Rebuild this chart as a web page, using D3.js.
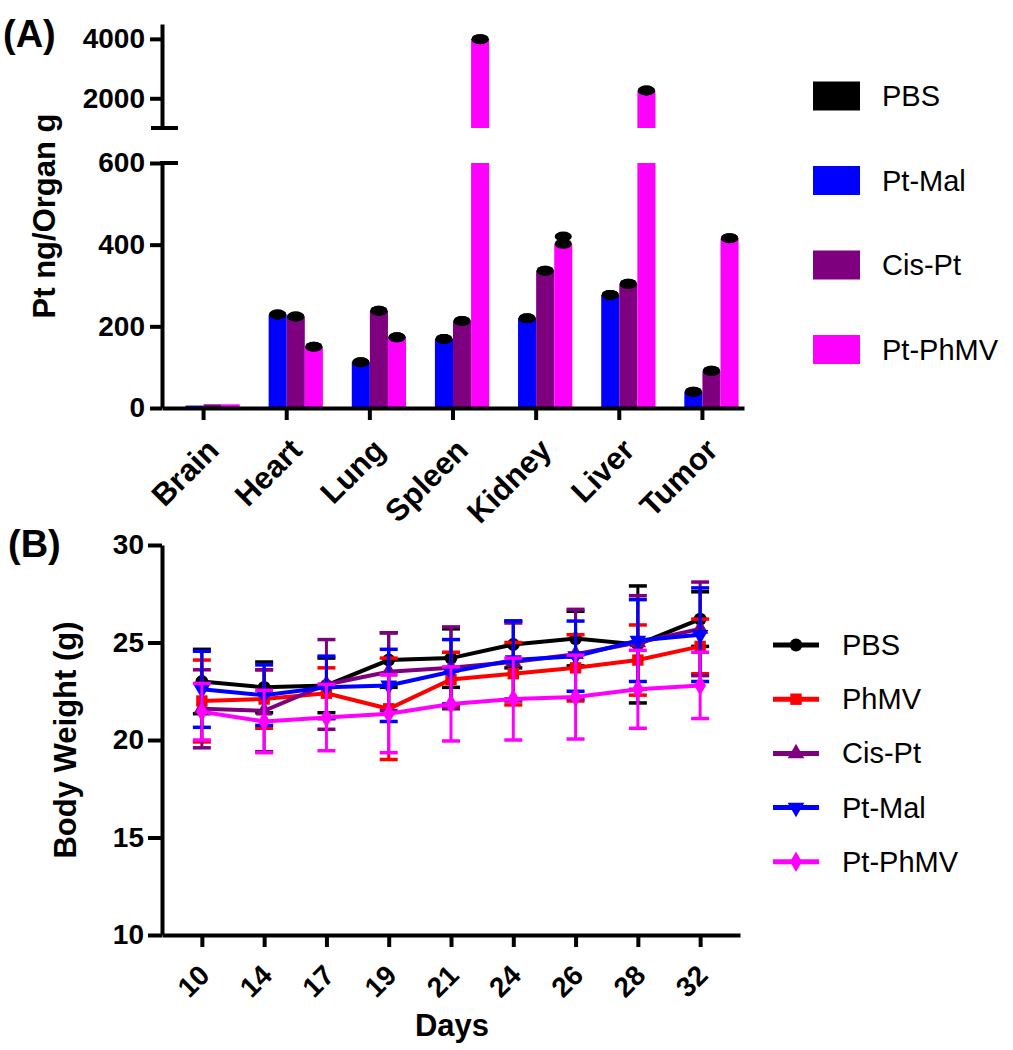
<!DOCTYPE html>
<html><head><meta charset="utf-8">
<script src="https://cdn.jsdelivr.net/npm/d3@7"></script>
<style>
body{margin:0;background:#fff}
text{font-family:Arial,"Liberation Sans",sans-serif}
</style>
</head><body>
<svg id="c" width="1013" height="1050"></svg>
<script>
// ---------- Panel A data ----------
const organs = ["Brain","Heart","Lung","Spleen","Kidney","Liver","Tumor"];
const barSeries = ["PBS","Pt-Mal","Cis-Pt","Pt-PhMV"];
const barColors = ["#000000","#0000FF","#7F007F","#FF00FF"];
const pbsVals   = [0,0,0,0,0,0,0];
const ptMalVals = [6,229,112,169,220,277,40];
const cisPtVals = [9,224,238,213,336,304,91];
const ptPhmvVals= [9,150,173,3990,402,2260,416];
const pbsErr    = [null,null,null,null,null,null,null];
const ptMalErr  = [null,0,0,0,0,0,0];
const cisPtErr  = [null,0,0,0,0,0,0];
const ptPhmvErr = [null,0,0,0,18,0,0];
const lowTicks = [0,200,400,600];
const upTicks = [2000,4000];

// ---------- Panel B data ----------
const days = ["10","14","17","19","21","24","26","28","32"];
const lineSeries = ["PBS","PhMV","Cis-Pt","Pt-Mal","Pt-PhMV"];
const lineColors = ["#000000","#FF0000","#7F007F","#0000FF","#FF00FF"];
const pbsW    = [23.0,22.7,22.8,24.1,24.2,24.9,25.2,24.9,26.2];
const pbsSD   = [1.65,1.3,1.4,1.4,1.5,1.2,1.4,3.0,1.4];
const phmvW   = [22.0,22.1,22.4,21.6,23.1,23.4,23.7,24.1,24.8];
const phmvSD  = [2.1,1.5,1.3,2.6,1.4,1.6,1.7,1.8,1.4];
const cisW    = [21.6,21.5,22.85,23.5,23.7,24.0,24.4,25.0,25.7];
const cisSD   = [2.0,2.1,2.3,2.0,2.1,2.0,2.3,2.4,2.4];
const malW    = [22.6,22.3,22.7,22.8,23.5,24.1,24.3,25.1,25.4];
const malSD   = [1.95,1.55,1.6,1.85,1.65,2.0,1.8,2.1,2.4];
const ptphW   = [21.45,20.95,21.15,21.35,21.85,22.1,22.2,22.6,22.8];
const ptphSD  = [1.45,1.6,1.7,2.0,1.9,2.1,2.15,2.0,1.7];
const bTicks = [10,15,20,25,30];

const svg = d3.select("#c");
const AX = 4;

function styleAxis(g){
  g.selectAll("path.domain").attr("stroke","#000").attr("stroke-width",AX);
  g.selectAll(".tick line").attr("stroke","#000").attr("stroke-width",AX);
  g.selectAll("text").attr("fill","#000").style("font-weight","bold").style("font-family","Arial, 'Liberation Sans', sans-serif");
}

// ================= Panel A =================
const xA = d3.scaleBand().domain(organs).range([162,744]).paddingInner(0.13).paddingOuter(0.065);
const xSub = d3.scaleBand().domain(barSeries).range([0,xA.bandwidth()]);
const yLow = d3.scaleLinear().domain([0,600]).range([408,163]);
const yUp = d3.scaleLinear().domain([1000,4500]).range([128,24]);
const barVals = [pbsVals,ptMalVals,cisPtVals,ptPhmvVals];
const barErrs = [pbsErr,ptMalErr,cisPtErr,ptPhmvErr];

const gA = svg.append("g");
const bars = [];
barSeries.forEach((s,si)=>organs.forEach((o,oi)=>bars.push({s,si,o,v:barVals[si][oi],e:barErrs[si][oi]})));
const bw = xSub.bandwidth();
bars.forEach(d=>{
  const x = xA(d.o)+xSub(d.s);
  const col = barColors[d.si];
  if(d.v<=0) return;
  if(d.v<=600){
    gA.append("rect").attr("x",x).attr("y",yLow(d.v)).attr("width",bw).attr("height",yLow(0)-yLow(d.v)).attr("fill",col);
  } else {
    gA.append("rect").attr("x",x).attr("y",yLow(600)).attr("width",bw).attr("height",yLow(0)-yLow(600)).attr("fill",col);
    gA.append("rect").attr("x",x).attr("y",yUp(d.v)).attr("width",bw).attr("height",yUp(1000)-yUp(d.v)).attr("fill",col);
  }
  if(d.e!==null){
    const yy = v => v<=600 ? yLow(v) : yUp(v);
    [d.v+d.e, d.v].forEach(v=>{
      gA.append("ellipse").attr("cx",x+bw/2).attr("cy",yy(v)).attr("rx",bw/2-0.5).attr("ry",5).attr("fill","#000");
    });
  }
});

// axes A
const fmt = d3.format("d");
const axLow = gA.append("g").attr("transform","translate(162,0)")
  .call(d3.axisLeft(yLow).tickValues(lowTicks).tickFormat(fmt).tickSize(12).tickSizeOuter(0).tickPadding(5));
styleAxis(axLow);
axLow.selectAll("text").style("font-size","28px");
const axUp = gA.append("g").attr("transform","translate(162,0)")
  .call(d3.axisLeft(yUp).tickValues(upTicks).tickFormat(fmt).tickSize(12).tickSizeOuter(0).tickPadding(5));
styleAxis(axUp);
axUp.selectAll("text").style("font-size","28px");
// break caps
gA.append("line").attr("x1",151).attr("x2",178).attr("y1",yUp(1000)).attr("y2",yUp(1000)).attr("stroke","#000").attr("stroke-width",AX);
gA.append("line").attr("x1",160).attr("x2",178).attr("y1",yLow(600)).attr("y2",yLow(600)).attr("stroke","#000").attr("stroke-width",AX);

const axXA = gA.append("g").attr("transform","translate(0,408)")
  .call(d3.axisBottom(xA).tickSize(12).tickSizeOuter(0));
styleAxis(axXA);
axXA.selectAll("text").style("font-size","31px").attr("text-anchor","end")
  .attr("x",0).attr("y",0).attr("dy",0).attr("transform","translate(17,44) rotate(-45)");

gA.append("text").attr("transform","translate(55,216) rotate(-90)").attr("text-anchor","middle")
  .style("font-size","31px").style("font-weight","bold").text("Pt ng/Organ g");
gA.append("text").attr("x",3).attr("y",47).style("font-size","38px").style("font-weight","bold").text("(A)");

// legend A
const legA = gA.append("g");
barSeries.forEach((s,i)=>{
  const cy = 96 + i*84.5;
  legA.append("rect").attr("x",813).attr("y",cy-14.5).attr("width",47).attr("height",29).attr("fill",barColors[i]);
  legA.append("text").attr("x",882).attr("y",cy+10).style("font-size","29px").text(s);
});

// ================= Panel B =================
const xB = d3.scalePoint().domain(days).range([162,740]).padding(0.64);
const yB = d3.scaleLinear().domain([10,30]).range([935,545]);
const lineVals = [pbsW,phmvW,cisW,malW,ptphW];
const lineSDs = [pbsSD,phmvSD,cisSD,malSD,ptphSD];
const symTypes = [d3.symbolCircle,d3.symbolSquare,d3.symbolTriangle,d3.symbolTriangle,d3.symbolDiamond];
const symRot = [0,0,0,180,0];
const symSize = [130,130,120,120,120];

const gB = svg.append("g");
const lineGen = d3.line().x(d=>xB(d.day)).y(d=>yB(d.v));
lineSeries.forEach((s,si)=>{
  const pts = days.map((dd,i)=>({day:dd,v:lineVals[si][i],sd:lineSDs[si][i]}));
  const col = lineColors[si];
  const g = gB.append("g");
  pts.forEach(p=>{
    const x = xB(p.day), y1 = yB(p.v-p.sd), y2 = yB(p.v+p.sd);
    g.append("line").attr("x1",x).attr("x2",x).attr("y1",y1).attr("y2",y2).attr("stroke",col).attr("stroke-width",3);
    [y1,y2].forEach(yy=>g.append("line").attr("x1",x-9).attr("x2",x+9).attr("y1",yy).attr("y2",yy).attr("stroke",col).attr("stroke-width",3.5));
  });
  g.append("path").datum(pts).attr("d",lineGen).attr("fill","none").attr("stroke",col).attr("stroke-width",4);
  g.selectAll("path.m").data(pts).enter().append("path").attr("class","m")
    .attr("d",d3.symbol().type(symTypes[si]).size(symSize[si]))
    .attr("transform",d=>`translate(${xB(d.day)},${yB(d.v)}) rotate(${symRot[si]})`)
    .attr("fill",col);
});

const axYB = gB.append("g").attr("transform","translate(162,0)")
  .call(d3.axisLeft(yB).tickValues(bTicks).tickSize(14).tickSizeOuter(0).tickPadding(4));
styleAxis(axYB);
axYB.selectAll("text").style("font-size","28px");
const axXB = gB.append("g").attr("transform","translate(0,935)")
  .call(d3.axisBottom(xB).tickSize(12).tickSizeOuter(0));
styleAxis(axXB);
axXB.selectAll("text").style("font-size","28px").attr("text-anchor","end")
  .attr("x",0).attr("y",0).attr("dy",0).attr("transform","translate(9,42) rotate(-45)");

gB.append("text").attr("transform","translate(76,740) rotate(-90)").attr("text-anchor","middle")
  .style("font-size","31px").style("font-weight","bold").text("Body Weight (g)");
gB.append("text").attr("x",452).attr("y",1036).attr("text-anchor","middle")
  .style("font-size","31px").style("font-weight","bold").text("Days");
gB.append("text").attr("x",8).attr("y",557).style("font-size","38px").style("font-weight","bold").text("(B)");

// legend B
const legB = gB.append("g");
lineSeries.forEach((s,i)=>{
  const cy = 645 + i*54.2;
  legB.append("line").attr("x1",773).attr("x2",819).attr("y1",cy).attr("y2",cy).attr("stroke",lineColors[i]).attr("stroke-width",5);
  legB.append("path").attr("d",d3.symbol().type(symTypes[i]).size(symSize[i]))
    .attr("transform",`translate(796,${cy}) rotate(${symRot[i]})`).attr("fill",lineColors[i]);
  legB.append("text").attr("x",842).attr("y",cy+10).style("font-size","29px").text(s);
});
</script>
</body></html>
